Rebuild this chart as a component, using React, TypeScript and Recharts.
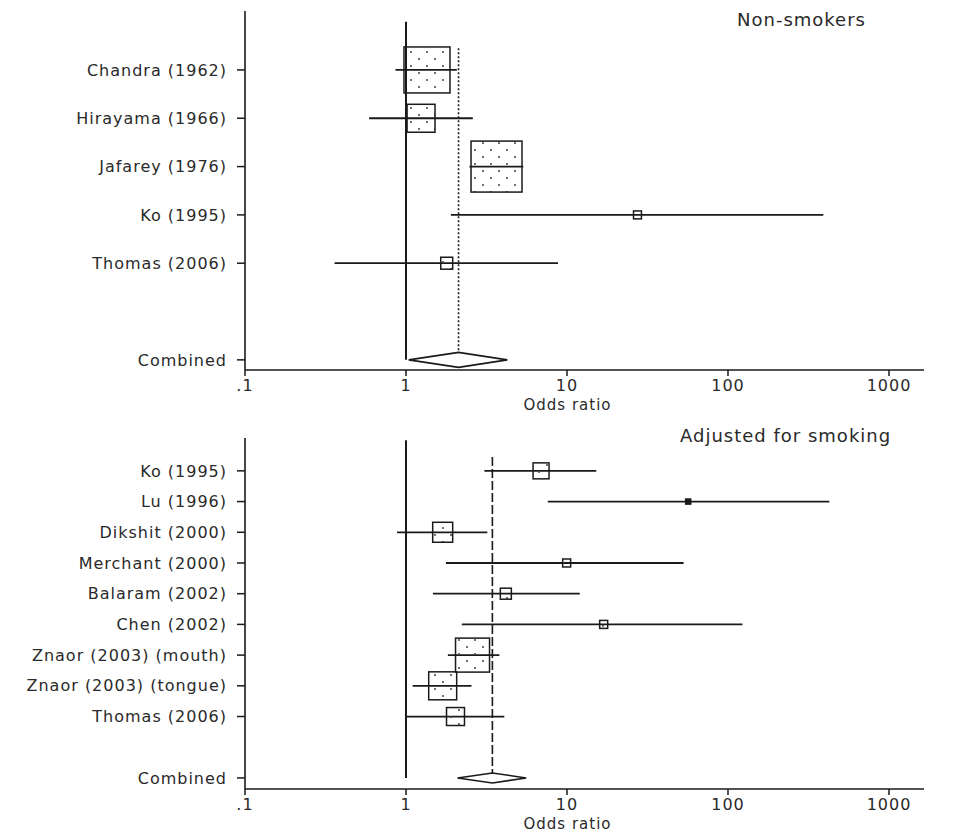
import { ScatterChart, Scatter, XAxis, YAxis, ReferenceLine } from 'recharts'

// Non-smokers panel
const nsStudies = ['Chandra (1962)', 'Hirayama (1966)', 'Jafarey (1976)', 'Ko (1995)', 'Thomas (2006)']
const nsOdds = [1.35, 1.24, 3.65, 27.4, 1.79]
const nsLower = [0.86, 0.59, 2.48, 1.9, 0.36]
const nsUpper = [2.07, 2.6, 5.35, 391, 8.8]
const nsWeights = [37.1, 13.7, 45.6, 1.1, 2.5]
const nsCombined = [1.04, 2.12, 4.26] // lower, estimate, upper

// Adjusted for smoking panel
const adjStudies = [
  'Ko (1995)',
  'Lu (1996)',
  'Dikshit (2000)',
  'Merchant (2000)',
  'Balaram (2002)',
  'Chen (2002)',
  'Znaor (2003) (mouth)',
  'Znaor (2003) (tongue)',
  'Thomas (2006)',
]
const adjOdds = [6.9, 56.6, 1.69, 9.95, 4.17, 16.9, 2.59, 1.69, 2.03]
const adjLower = [3.07, 7.6, 0.88, 1.77, 1.47, 2.22, 1.82, 1.1, 1.0]
const adjUpper = [15.2, 426, 3.2, 53, 12.0, 123, 3.8, 2.55, 4.08]
const adjWeights = [8.0, 0.8, 12.5, 2.0, 3.8, 2.0, 36.2, 24.5, 10.1]
const adjCombined = [2.09, 3.44, 5.58]

const oddsTicks = [0.1, 1, 10, 100, 1000]

const INK = '#1a1a1a'
const TEXT = '#2a2a2a'

interface PanelProps {
  studies: string[]
  odds: number[]
  lower: number[]
  upper: number[]
  weights: number[]
  combined: number[]
  boxScale: number
  diamondHalf: number
  pooledDash: string
  rowPad: [number, number]
  height: number
  marginTop: number
  marginBottom: number
}

function ForestPanel({
  studies, odds, lower, upper, weights, combined,
  boxScale, diamondHalf, pooledDash, rowPad, height, marginTop, marginBottom,
}: PanelProps) {
  const combinedRow = studies.length + 1
  const data = studies.map((name, i) => ({ name, row: i, est: odds[i], weight: weights[i] }))
  const rowTicks = [...studies.map((_, i) => i), combinedRow]
  const [lo, est, hi] = combined

  const box = (props: any) => {
    const { cx, cy, payload } = props
    const s = Math.sqrt(payload.weight) * boxScale
    // very small boxes print as a solid dot
    return (
      <rect x={cx - s / 2} y={cy - s / 2} width={s} height={s}
        fill={s < 6 ? INK : 'url(#stipple)'} stroke={INK} strokeWidth={1.5} />
    )
  }

  const diamond = (props: any) => {
    const { x1, x2, y1 } = props
    const xc = x1 + (x2 - x1) * (Math.log(est / lo) / Math.log(hi / lo))
    return (
      <polygon
        points={`${x1},${y1} ${xc},${y1 - diamondHalf} ${x2},${y1} ${xc},${y1 + diamondHalf}`}
        fill="#fff" stroke={INK} strokeWidth={1.6} />
    )
  }

  return (
    <ScatterChart width={960} height={height}
      margin={{ top: marginTop, right: 36, bottom: marginBottom, left: 5 }}>
      <XAxis type="number" dataKey="est" scale="log" domain={[0.1, 1650]} allowDataOverflow
        ticks={oddsTicks} interval={0}
        tickFormatter={(v: number) => (v === 0.1 ? '.1' : String(v))}
        axisLine={{ stroke: INK, strokeWidth: 1.6 }}
        tickLine={{ stroke: INK, strokeWidth: 1.5 }} tickSize={6} tickMargin={4}
        tick={{ fill: TEXT, fontSize: 16 }} height={29}
        label={{ value: 'Odds ratio', position: 'bottom', offset: 0, dx: -17, fill: TEXT, fontSize: 15 }} />
      <YAxis type="number" dataKey="row" reversed allowDataOverflow
        domain={[rowPad[0], combinedRow + rowPad[1]]}
        ticks={rowTicks} interval={0}
        tickFormatter={(v: number) => (v === combinedRow ? 'Combined' : studies[v])}
        axisLine={{ stroke: INK, strokeWidth: 1.6 }}
        tickLine={{ stroke: INK, strokeWidth: 1.5 }} tickSize={8} tickMargin={10}
        tick={{ fill: TEXT, fontSize: 16 }} width={240} />

      {studies.map((name, i) => (
        <ReferenceLine key={name + i}
          segment={[{ x: lower[i], y: i }, { x: upper[i], y: i }]}
          stroke={INK} strokeWidth={1.8} />
      ))}
      <ReferenceLine segment={[{ x: 1, y: -1 }, { x: 1, y: combinedRow }]}
        stroke={INK} strokeWidth={2} />
      <ReferenceLine segment={[{ x: est, y: -0.45 }, { x: est, y: combinedRow }]}
        stroke={INK} strokeWidth={1.6} strokeDasharray={pooledDash} />
      <ReferenceLine segment={[{ x: lo, y: combinedRow }, { x: hi, y: combinedRow }]}
        shape={diamond} />

      <Scatter data={data} shape={box} isAnimationActive={false} />
    </ScatterChart>
  )
}

export default function App() {
  return (
    <div style={{
      position: 'absolute', left: 0, top: 0, width: 960, height: 832, background: '#fff',
      fontFamily: '"DejaVu Sans", sans-serif', letterSpacing: '1px',
    }}>
      <svg width={0} height={0} style={{ position: 'absolute' }}>
        <defs>
          <pattern id="stipple" patternUnits="userSpaceOnUse" width={16} height={14}>
            <circle cx={3} cy={3} r={1} fill="#444" />
            <circle cx={11} cy={10} r={1} fill="#444" />
          </pattern>
        </defs>
      </svg>

      <div style={{ position: 'absolute', left: 0, top: 0 }}>
        <ForestPanel studies={nsStudies} odds={nsOdds} lower={nsLower} upper={nsUpper}
          weights={nsWeights} combined={nsCombined} boxScale={7.55} diamondHalf={7.5}
          pooledDash="2 2" rowPad={[-1.22, 0.21]} height={420} marginTop={11} marginBottom={21} />
      </div>
      <div style={{ position: 'absolute', left: 0, top: 420 }}>
        <ForestPanel studies={adjStudies} odds={adjOdds} lower={adjLower} upper={adjUpper}
          weights={adjWeights} combined={adjCombined} boxScale={5.65} diamondHalf={5}
          pooledDash="9 3" rowPad={[-1.07, 0.36]} height={412} marginTop={18} marginBottom={14} />
      </div>

      <div style={{ position: 'absolute', left: 737, top: 10, fontSize: 18, lineHeight: '20px', color: TEXT }}>
        Non-smokers
      </div>
      <div style={{ position: 'absolute', left: 680, top: 426, fontSize: 18, lineHeight: '20px', color: TEXT }}>
        Adjusted for smoking
      </div>
    </div>
  )
}
